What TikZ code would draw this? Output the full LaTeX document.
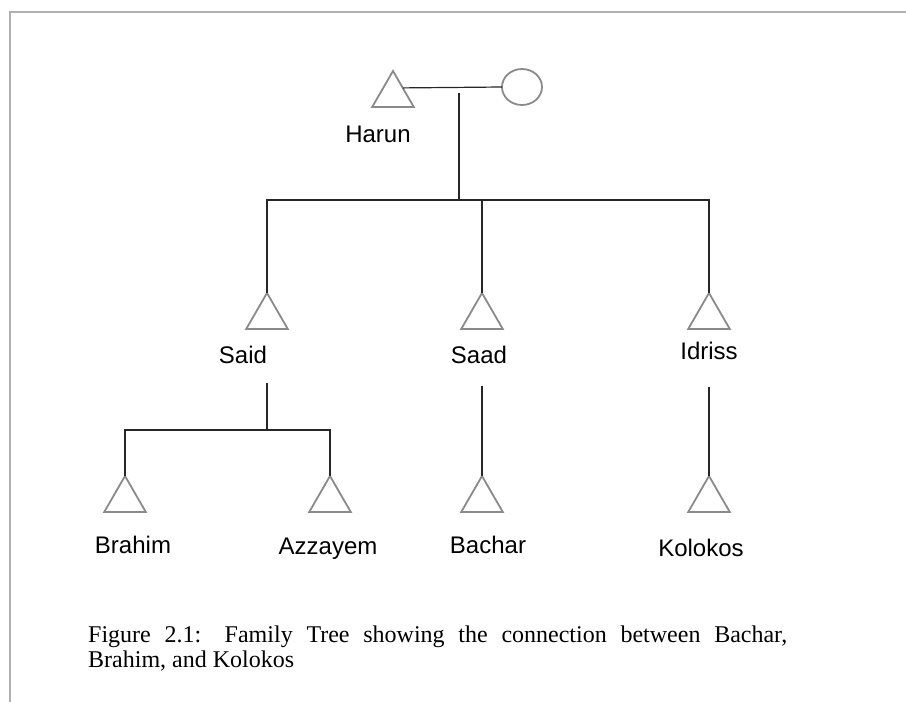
\documentclass[tikz,border=0pt]{standalone}
\usepackage{fontspec}
\setmainfont{Liberation Serif}
\newfontfamily\labelfont{Liberation Sans}
\usetikzlibrary{shapes.geometric}
\definecolor{symgray}{HTML}{8A8A8A}
\definecolor{framegray}{HTML}{B0B0B0}
\tikzstyle{male} = [regular polygon, regular polygon sides=3, minimum size=48pt, inner sep=0pt, outer sep=0pt, draw=symgray, line width=1.8pt]
\tikzstyle{female} = [ellipse, minimum width=40pt, minimum height=36pt, inner sep=0pt, outer sep=0pt, draw=symgray, line width=1.8pt]
\tikzstyle{kinname} = [anchor=base, inner sep=0pt, font=\labelfont\fontsize{24}{28}\selectfont]
\tikzstyle{kinlink} = [line width=1.2pt, draw=black!85]

\begin{document}
\begin{tikzpicture}[x=1pt, y=-1pt]
\useasboundingbox (0,0) rectangle (906,702);
\draw [framegray, line width=2pt] (10,702) -- (10,12) -- (906,12);

\node (harun) [male] at (393,95) {};
\node (wife) [female] at (522,87) {};
\node (said) [male] at (267,317) {};
\node (saad) [male] at (482,317) {};
\node (idriss) [male] at (709,317) {};
\node (brahim) [male] at (125,500) {};
\node (azzayem) [male] at (330,500) {};
\node (bachar) [male] at (482,500) {};
\node (kolokos) [male] at (709,500) {};

\node (harunname) [kinname] at (378,142) {Harun};
\node (saidname) [kinname] at (243,363) {Said};
\node (saadname) [kinname] at (479,363) {Saad};
\node (idrissname) [kinname] at (709,359) {Idriss};
\node (brahimname) [kinname] at (133,553) {Brahim};
\node (azzayemname) [kinname] at (328,554) {Azzayem};
\node (bacharname) [kinname] at (488,553) {Bachar};
\node (kolokosname) [kinname] at (701,556) {Kolokos};

\coordinate (couple) at (459,93);
\coordinate (bar) at (459,200);
\coordinate (saidlow) at (267,383);
\coordinate (subbar) at (267,430);
\coordinate (saadlow) at (482,386);
\coordinate (idrisslow) at (709,387);

\draw [kinlink] (harun.36) -- (wife.west);
\draw [kinlink] (couple) -- (bar);
\draw [kinlink] (said.corner 1) |- (idriss.corner 1 |- bar) -- (idriss.corner 1);
\draw [kinlink] (saad.corner 1) -- (saad.corner 1 |- bar);
\draw [kinlink] (saidlow) -- (subbar);
\draw [kinlink] (brahim.corner 1) |- (azzayem.corner 1 |- subbar) -- (azzayem.corner 1);
\draw [kinlink] (saadlow) -- (bachar.corner 1);
\draw [kinlink] (idrisslow) -- (kolokos.corner 1);

\node (caption) [anchor=base west, inner sep=0pt, text width=699pt, align=justify, font=\fontsize{24}{25.5}\selectfont] at (88,642) {Figure 2.1: Family Tree showing the connection between Bachar,\linebreak Brahim, and Kolokos};
\end{tikzpicture}
\end{document}
